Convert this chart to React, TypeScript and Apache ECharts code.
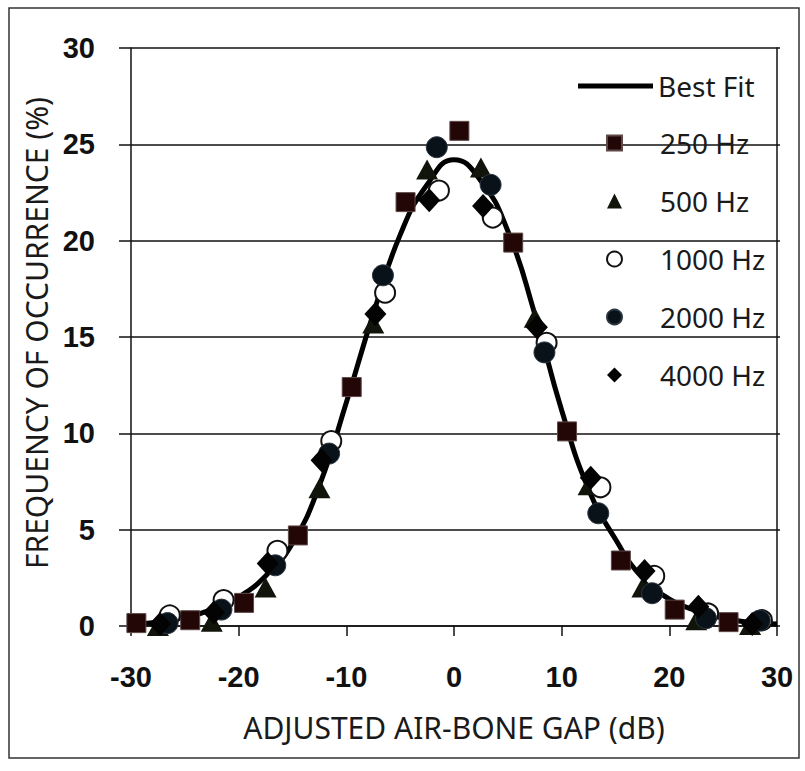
import React, { useEffect, useRef } from "react";
import * as echarts from "echarts";

// Best-fit curve
const fitX = [-30, -27.5, -25, -22.5, -20, -17.5, -15, -12.5, -10, -7.5, -5, -2.5, 0, 2.5, 5, 7.5, 10, 12.5, 15, 17.5, 20, 22.5, 25, 27.5, 30];
const fitY = [0.1, 0.2, 0.45, 0.85, 1.5, 2.6, 4.3, 7.3, 11.6, 16.2, 20.3, 22.9, 24.2, 23.1, 20.5, 16.2, 11.2, 7.1, 4.5, 2.5, 1.4, 0.8, 0.4, 0.2, 0.1];

// Measured points
const x250 = [-29.5, -24.5, -19.5, -14.5, -9.5, -4.5, 0.5, 5.5, 10.5, 15.5, 20.5, 25.5];
const y250 = [0.15, 0.3, 1.2, 4.7, 12.4, 22.0, 25.7, 19.9, 10.1, 3.4, 0.85, 0.2];

const x500 = [-27.5, -22.5, -17.5, -12.5, -7.5, -2.5, 2.5, 7.5, 12.5, 17.5, 22.5, 27.5];
const y500 = [0.0, 0.22, 2.0, 7.15, 15.7, 23.7, 23.8, 16.0, 7.3, 2.0, 0.3, 0.05];

const x1000 = [-26.4, -21.4, -16.4, -11.4, -6.4, -1.4, 3.6, 8.6, 13.6, 18.6, 23.6, 28.6];
const y1000 = [0.55, 1.35, 3.9, 9.6, 17.3, 22.6, 21.2, 14.7, 7.2, 2.6, 0.65, 0.3];

const x2000 = [-26.6, -21.6, -16.6, -11.6, -6.6, -1.6, 3.4, 8.4, 13.4, 18.4, 23.4, 28.4];
const y2000 = [0.15, 0.85, 3.15, 8.95, 18.2, 24.85, 22.9, 14.2, 5.85, 1.7, 0.4, 0.28];

const x4000 = [-27.3, -22.3, -17.3, -12.3, -7.3, -2.3, 2.7, 7.7, 12.7, 17.7, 22.7, 27.7];
const y4000 = [0.1, 0.7, 3.25, 8.6, 16.2, 22.1, 21.8, 15.5, 7.7, 2.85, 1.0, 0.1];

const xTitle = "ADJUSTED AIR-BONE GAP (dB)";
const yTitle = "FREQUENCY OF OCCURRENCE (%)";
const seriesNames = ["Best Fit", "250 Hz", "500 Hz", "1000 Hz", "2000 Hz", "4000 Hz"];

const pairs = (xs: number[], ys: number[]) => xs.map((x, i) => [x, ys[i]]);

export default function App() {
  const ref = useRef<HTMLDivElement>(null);
  useEffect(() => {
    if (!ref.current) return;
    const chart = echarts.init(ref.current, null, { renderer: "svg" });
    const tickFont = { fontFamily: "Liberation Sans, Arial", fontWeight: "bold" as const, fontSize: 29, color: "#111" };
    const titleFont = { fontFamily: "Noto Sans", fontSize: 30, color: "#1a1a1a" };
    const legendText = { fontFamily: "Noto Sans", fontSize: 28, color: "#1a1a1a", lineHeight: 30 };
    chart.setOption({
      animation: false,
      backgroundColor: "#ffffff",
      graphic: [
        {
          type: "rect",
          shape: { x: 9, y: 8, width: 790, height: 750 },
          style: { fill: "none", stroke: "#333", lineWidth: 1.5 },
          silent: true,
        },
      ],
      grid: { left: 131, right: 28, top: 48, bottom: 145, containLabel: false },
      legend: [
        {
          data: [{ name: seriesNames[0], icon: "rect" }],
          left: 578,
          top: 71,
          padding: 0,
          itemWidth: 75,
          itemHeight: 5,
          selectedMode: false,
          textStyle: { ...legendText, padding: [0, 0, 0, 0] },
        },
        {
          data: [
            { name: seriesNames[1], icon: "rect" },
            { name: seriesNames[2], icon: "triangle" },
            { name: seriesNames[3], icon: "circle" },
            { name: seriesNames[4], icon: "circle" },
            { name: seriesNames[5], icon: "diamond" },
          ],
          orient: "vertical",
          left: 606,
          top: 128,
          padding: 0,
          itemWidth: 15,
          itemHeight: 15,
          itemGap: 28,
          selectedMode: false,
          textStyle: { ...legendText, padding: [0, 0, 0, 33] },
        },
      ],
      xAxis: {
        type: "value",
        min: -30,
        max: 30,
        interval: 10,
        name: xTitle,
        nameLocation: "middle",
        nameGap: 86,
        nameTextStyle: titleFont,
        axisLine: { show: true, onZero: false, lineStyle: { color: "#111", width: 1.5 } },
        axisTick: { show: true, length: 10, lineStyle: { color: "#111", width: 1.5 } },
        axisLabel: { ...tickFont, margin: 36 },
        splitLine: { show: false },
      },
      yAxis: [
        {
          type: "value",
          min: 0,
          max: 30,
          interval: 5,
          name: yTitle,
          nameLocation: "middle",
          nameGap: 76,
          nameRotate: 90,
          nameTextStyle: { ...titleFont, padding: [0, 0, 0, 8] },
          axisLine: { show: true, onZero: false, lineStyle: { color: "#111", width: 1.5 } },
          axisTick: { show: true, length: 12, lineStyle: { color: "#111", width: 1.5 } },
          axisLabel: { ...tickFont, margin: 36 },
          splitLine: { show: true, lineStyle: { color: "#111", width: 1.5 } },
        },
        {
          type: "value",
          min: 0,
          max: 30,
          interval: 5,
          position: "right",
          axisLine: { show: true, onZero: false, lineStyle: { color: "#111", width: 1.5 } },
          axisTick: { show: true, length: 3, lineStyle: { color: "#111", width: 1.5 } },
          axisLabel: { show: false },
          splitLine: { show: false },
        },
      ],
      series: [
        {
          name: seriesNames[0],
          type: "line",
          data: pairs(fitX, fitY),
          smooth: 0.5,
          showSymbol: false,
          symbol: "none",
          color: "#000",
          lineStyle: { color: "#000", width: 5 },
          z: 1,
        },
        {
          name: seriesNames[1],
          type: "scatter",
          data: pairs(x250, y250),
          symbol: "rect",
          symbolSize: 19,
          itemStyle: { color: "#230606", borderColor: "#5e4848", borderWidth: 1, opacity: 1 },
          z: 2,
        },
        {
          name: seriesNames[2],
          type: "scatter",
          data: pairs(x500, y500),
          symbol: "triangle",
          symbolSize: [22, 20],
          itemStyle: { color: "#10140a", opacity: 1 },
          z: 3,
        },
        {
          name: seriesNames[3],
          type: "scatter",
          data: pairs(x1000, y1000),
          symbol: "circle",
          symbolSize: 20,
          itemStyle: { color: "#ffffff", borderColor: "#111", borderWidth: 2, opacity: 1 },
          z: 4,
        },
        {
          name: seriesNames[4],
          type: "scatter",
          data: pairs(x2000, y2000),
          symbol: "circle",
          symbolSize: 21,
          itemStyle: { color: "#0a1219", borderColor: "#2c3640", borderWidth: 1, opacity: 1 },
          z: 5,
        },
        {
          name: seriesNames[5],
          type: "scatter",
          data: pairs(x4000, y4000),
          symbol: "diamond",
          symbolSize: [22, 24],
          itemStyle: { color: "#030303", opacity: 1 },
          z: 6,
        },
      ],
    });
    return () => chart.dispose();
  }, []);
  return (
    <div
      ref={ref}
      style={{ position: "absolute", left: 0, top: 0, width: 805, height: 771 }}
    />
  );
}
